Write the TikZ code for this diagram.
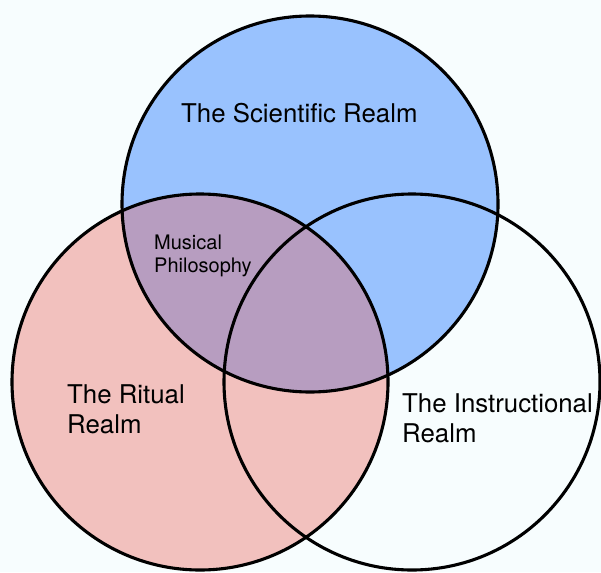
\documentclass[tikz,border=0pt]{standalone}
\usepackage{fontspec}
\setmainfont{TeX Gyre Heros}
\definecolor{bgcol}{HTML}{F7FDFE}
\definecolor{bluefill}{HTML}{99C2FE}
\definecolor{pinkfill}{HTML}{F2C1BE}
\definecolor{purplefill}{HTML}{B79DC0}
\begin{document}
\begin{tikzpicture}[x=1pt,y=-1pt,
  ring/.style={draw=black,line width=3.1pt},
  biglabel/.style={inner sep=0pt,anchor=base west,align=left,font=\fontsize{25.8}{30}\selectfont},
  smalllabel/.style={inner sep=0pt,anchor=base west,align=left,font=\fontsize{20}{22.5}\selectfont}]
  \fill[bgcol] (0,0) rectangle (601,572);
  \useasboundingbox (0,0) rectangle (601,572);
  \coordinate (cs) at (310,204);
  \coordinate (cr) at (200,382);
  \coordinate (ci) at (412,382);
  \fill[pinkfill] (cr) circle[radius=188];
  \fill[bluefill] (cs) circle[radius=188];
  \begin{scope}
    \clip (cr) circle[radius=188];
    \fill[purplefill] (cs) circle[radius=188];
  \end{scope}
  \draw[ring] (cs) circle[radius=188];
  \draw[ring] (cr) circle[radius=188];
  \draw[ring] (ci) circle[radius=188];
  \node[biglabel] (sci) at (181,123) {The Scientific Realm};
  \node[biglabel] (rit) at (67,433) {The Ritual\\Realm};
  \node[biglabel] (ins) at (402,442) {The Instructional\\Realm};
  \node[smalllabel] (mus) at (154,272) {Musical\\Philosophy};
\end{tikzpicture}
\end{document}
